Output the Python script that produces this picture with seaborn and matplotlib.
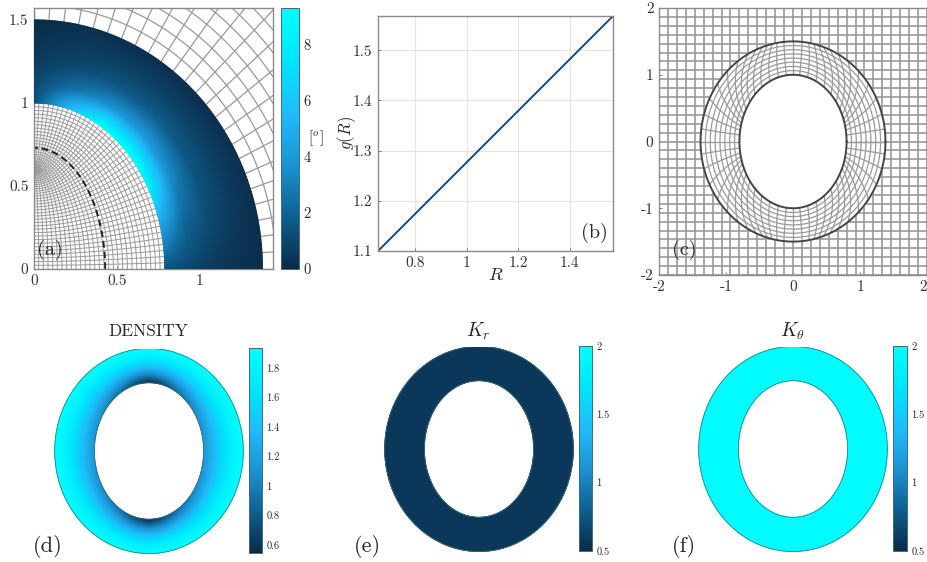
import numpy as np
import seaborn as sns
import matplotlib
matplotlib.use('Agg')
import matplotlib.pyplot as plt

W, H = 928, 562

sns.set_theme(style='white')
plt.rcParams['font.family'] = ['cmr10', 'DejaVu Sans']
plt.rcParams['mathtext.fontset'] = 'cm'
plt.rcParams['axes.unicode_minus'] = False
plt.rcParams['text.color'] = '#262626'

# colours
cbar_colors = ['#0a2a48', '#0f5f8e', '#1c93d2', '#1fbcfb', '#00e6fb', '#00ffff']

# panel (a) shear angle, rows = ellipse angle, columns = position across the ring
a_angles = [0, 15, 30, 45, 60, 75, 90]
a_rho = [0, 0.25, 0.5, 0.75, 1]
a_row0 = [1.5, 1.0, 0.6, 0.3, 0.1]
a_row15 = [4.5, 2.2, 1.2, 0.6, 0.2]
a_row30 = [8.5, 3.6, 1.6, 0.8, 0.2]
a_row45 = [9.3, 4.2, 1.8, 0.8, 0.2]
a_row60 = [9.0, 3.8, 1.6, 0.8, 0.2]
a_row75 = [5.5, 2.5, 1.2, 0.6, 0.2]
a_row90 = [1.3, 1.0, 0.6, 0.3, 0.1]
a_ticks = [0, 2, 4, 6, 8]

# panel (b)
R_values = [0.657, 1.567]
g_values = [1.1, 1.568]

# panel (d) density
d_angles = [0, 30, 60, 75, 90]
d_rho = [0, 0.25, 0.5, 0.75, 1]
d_row0 = [1.15, 1.35, 1.60, 1.80, 1.93]
d_row30 = [1.08, 1.33, 1.60, 1.80, 1.93]
d_row60 = [0.90, 1.22, 1.55, 1.80, 1.93]
d_row75 = [0.72, 1.12, 1.50, 1.78, 1.92]
d_row90 = [0.55, 1.05, 1.45, 1.75, 1.92]
d_ticks = [0.6, 0.8, 1, 1.2, 1.4, 1.6, 1.8]

# panels (e) and (f) are flat
Kr_value = 0.58
Kt_value = 1.96
k_ticks = [0.5, 1, 1.5, 2]

cm = sns.blend_palette(cbar_colors, as_cmap=True)


def px_axes(left, top, right, bottom):
    return fig.add_axes([left / W, 1 - bottom / H, (right - left) / W, (bottom - top) / H])


def px_text(x, y, s, size=14.5, **kw):
    fig.text(x / W, 1 - y / H, s, fontsize=size, ha='center', va='center', **kw)


def ring_xy(rho, th, a0=0.8, b0=1.0, a1=1.38, b1=1.5):
    return (a0 + rho * (a1 - a0)) * np.cos(th), (b0 + rho * (b1 - b0)) * np.sin(th)


def inner_xy(s, th):
    # the rings inside the hole flatten onto the y axis at y = 0.6
    return 0.79 * s * np.cos(th), np.sqrt(0.36 + 0.64 * s ** 2) * np.sin(th)


def sample_table(rows, angles, rhos, th, rho):
    # look the table up along the curved ring, folded into one quadrant
    deg = np.degrees(np.arccos(np.abs(np.cos(th))))
    cols = np.array([np.interp(deg, angles, c) for c in np.array(rows).T])
    return np.array([np.interp(rho, rhos, cols[:, i]) for i in range(len(th))])


def box_style(ax, xt, yt, xl, yl, size=11):
    ax.set_xticks(xt, xl, fontsize=size, color='#333333')
    ax.set_yticks(yt, yl, fontsize=size, color='#333333')
    ax.tick_params(direction='in', length=2.5, width=0.7, color='#777777', pad=4, left=True, bottom=True)
    for s in ax.spines.values():
        s.set_color('#8a8a8a')
        s.set_linewidth(1.0)


def add_cbar(mesh, left, top, right, bottom, ticks, labels, size):
    cax = px_axes(left, top, right, bottom)
    cb = fig.colorbar(mesh, cax=cax, ticks=ticks)
    cb.ax.set_yticklabels(labels, fontsize=size)
    cb.ax.tick_params(length=0, pad=3)
    cb.outline.set_edgecolor('#3c6c78')
    cb.outline.set_linewidth(0.7)
    return cb


fig = plt.figure(figsize=(W / 100, H / 100), dpi=100)
gray = '#9a9a9a'

# (a) reference mesh with the shear angle on the ring
ax = px_axes(34, 8, 273, 269)
th = np.radians(np.linspace(0, 90, 121))
rho = np.linspace(0, 1, 41)
T, P = np.meshgrid(th, rho, indexing='ij')
X, Y = ring_xy(P, T, 0.79, 1.0)
C = sample_table([a_row0, a_row15, a_row30, a_row45, a_row60, a_row75, a_row90], a_angles, a_rho, th, rho)
mesh = ax.pcolormesh(X, Y, C, shading='gouraud', cmap=cm, vmin=0, vmax=9.3, zorder=3)

ss = np.linspace(0, 1, 29)
for s in ss[1:]:
    x, y = inner_xy(s, th)
    ax.plot(x, y, color=gray, lw=0.7, zorder=1)
for t in np.radians(np.linspace(0, 90, 43)):
    x, y = inner_xy(ss, t)
    ax.plot(x, y, color=gray, lw=0.7, zorder=1)
for s in np.arange(1, 1.75, 0.06):
    ax.plot(1.38 * s * np.cos(th), 1.5 * s * np.sin(th), color=gray, lw=0.9, zorder=1)
for t in np.radians(np.linspace(0, 90, 25)):
    ax.plot([1.38 * np.cos(t), 2.6 * np.cos(t)], [1.5 * np.sin(t), 2.8 * np.sin(t)], color=gray, lw=0.9, zorder=1)
ax.plot(0.43 * np.cos(th), 0.73 * np.sin(th), color='#222222', lw=1.4, ls=(0, (3.5, 2)), zorder=2)
ax.set_xlim(0, 1.444)
ax.set_ylim(0, 1.572)
box_style(ax, [0, 0.5, 1], [0, 0.5, 1, 1.5], ['0', '0.5', '1'], ['0', '0.5', '1', '1.5'])
add_cbar(mesh, 281, 8, 299, 269, a_ticks, ['0', '2', '4', '6', '8'], 10.5)
px_text(316, 138, r'$[^o]$', 11)
px_text(50, 250, '(a)')

# (b) line
ax = px_axes(378, 16, 613, 251)
sns.lineplot(x=R_values, y=g_values, ax=ax, color='#1b4a6e', lw=1.4)
ax.set_xlim(R_values[0], R_values[1])
ax.set_ylim(g_values[0], g_values[1])
ax.grid(True, color='#e4e4e4', lw=0.8)
box_style(ax, [0.8, 1, 1.2, 1.4], [1.1, 1.2, 1.3, 1.4, 1.5], ['0.8', '1', '1.2', '1.4'], ['1.1', '1.2', '1.3', '1.4', '1.5'])
ax.set_xlabel(r'$R$', fontsize=13, labelpad=-2)
ax.set_ylabel(r'$g(R)$', fontsize=12, labelpad=-3.5)
px_text(594, 233, '(b)')

# (c) deformed mesh
ax = px_axes(659, 8, 927, 275)
for v in np.linspace(-2, 2, 31):
    ax.plot([v, v], [-2, 2], color=gray, lw=1.2, zorder=1)
    ax.plot([-2, 2], [v, v], color=gray, lw=1.2, zorder=1)
full = np.linspace(0, 2 * np.pi, 361)
ox, oy = ring_xy(1, full)
ax.fill(ox, oy, color='white', zorder=2)
for r in np.linspace(0, 1, 9)[1:-1]:
    x, y = ring_xy(r, full)
    ax.plot(x, y, color=gray, lw=0.9, zorder=3)
rr = np.linspace(0, 1, 20)
for t in np.linspace(0, 2 * np.pi, 57):
    s2 = np.sin(2 * t)
    x, y = ring_xy(rr, t + 0.55 * s2 * abs(s2) * (rr - 0.5))
    ax.plot(x, y, color=gray, lw=0.9, zorder=3)
ax.plot(ox, oy, color='#444444', lw=1.4, zorder=4)
ix, iy = ring_xy(0, full)
ax.plot(ix, iy, color='#444444', lw=1.4, zorder=4)
ax.set_xlim(-2, 2)
ax.set_ylim(-2, 2)
box_style(ax, [-2, -1, 0, 1, 2], [-2, -1, 0, 1, 2], ['-2', '-1', '0', '1', '2'], ['-2', '-1', '0', '1', '2'])
ax.get_xticklabels()[-1].set_ha('right')
px_text(684, 250, '(c)')

# (d), (e), (f) filled rings
th = np.linspace(0, 2 * np.pi, 241)
rho = np.linspace(0, 1, 41)
T, P = np.meshgrid(th, rho, indexing='ij')
X, Y = ring_xy(P, T)
panels = [
    (149, 451, sample_table([d_row0, d_row30, d_row60, d_row75, d_row90], d_angles, d_rho, th, rho), 0.546, 1.935, 'DENSITY'),
    (479, 449, np.full(X.shape, Kr_value), 0.5, 2, r'$K_r$'),
    (793, 449, np.full(X.shape, Kt_value), 0.5, 2, r'$K_\theta$'),
]
bars = [(249, 348, 262, 553, d_ticks, ['0.6', '0.8', '1', '1.2', '1.4', '1.6', '1.8']),
        (579, 346, 592, 551, k_ticks, ['0.5', '1', '1.5', '2']),
        (893, 346, 907, 551, k_ticks, ['0.5', '1', '1.5', '2'])]
tags = [(48, 546, '(d)'), (367, 546, '(e)'), (684, 546, '(f)')]
title_y = [331, 331, 331]
for (cx, cy, vals, vmin, vmax, title), bar, tag, ty in zip(panels, bars, tags, title_y):
    ax = px_axes(cx - 102.5, cy - 102.5, cx + 102.5, cy + 102.5)
    mesh = ax.pcolormesh(X, Y, vals, shading='gouraud', cmap=cm, vmin=vmin, vmax=vmax)
    ax.plot(*ring_xy(1, th), color='#3f6f70', lw=0.5)
    ax.plot(*ring_xy(0, th), color='#3f6f70', lw=0.5)
    ax.set_xlim(-1.5, 1.5)
    ax.set_ylim(-1.5, 1.5)
    ax.axis('off')
    add_cbar(mesh, *bar[:4], bar[4], bar[5], 7.5)
    px_text(cx - 1, ty, title, 12.5 if title == 'DENSITY' else 14)
    px_text(tag[0], tag[1], tag[2], 16)

fig.savefig('out.png', dpi=100)
